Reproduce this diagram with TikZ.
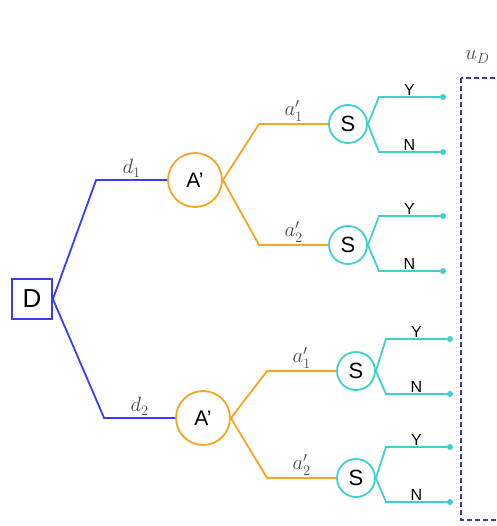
\documentclass[tikz,border=0pt]{standalone}
\usepackage{fontspec}
\setmainfont{Liberation Sans}
\usetikzlibrary{positioning,calc}
\definecolor{decblue}{HTML}{3C3CF5}
\definecolor{advorange}{HTML}{F7A423}
\definecolor{sigcyan}{HTML}{40CFCF}
\definecolor{payblue}{HTML}{3A3AA8}

\begin{document}
\begin{tikzpicture}[x=1pt, y=-1pt,
  decnode/.style={rectangle, draw=decblue, line width=1.8pt, minimum size=40pt, inner sep=0pt, font=\fontsize{26}{26}\selectfont},
  advnode/.style={circle, draw=advorange, line width=1.8pt, minimum size=54pt, inner sep=0pt, font=\fontsize{21}{21}\selectfont},
  signode/.style={circle, draw=sigcyan, line width=1.8pt, minimum size=38pt, inner sep=0pt, font=\fontsize{22}{22}\selectfont},
  leafdot/.style={circle, fill=sigcyan, minimum size=6pt, inner sep=0pt},
  decedge/.style={draw=decblue, line width=1.8pt},
  advedge/.style={draw=advorange, line width=1.8pt},
  sigedge/.style={draw=sigcyan, line width=1.8pt},
  mathlab/.style={font=\fontsize{22}{22}\selectfont, inner sep=2pt, text=black!70},
  leaflab/.style={font=\fontsize{16}{16}\selectfont, inner sep=0.5pt},
]
\useasboundingbox (0,0) rectangle (496,526);
\clip (0,0) rectangle (496,526);

% decision, adversary and signal nodes
\node[decnode] (D) at (32,299) {D};
\node[advnode] (A1) at (195,180) {A'};
\node[advnode] (A2) at (203,418) {A'};
\node[signode] (S11) at (348,124) {S};
\node[signode] (S12) at (348,245) {S};
\node[signode] (S21) at (356,371) {S};
\node[signode] (S22) at (356,478) {S};

% leaves
\node[leafdot] (Y11) at (443,97) {};
\node[leafdot] (N11) at (443,152) {};
\node[leafdot] (Y12) at (443,216) {};
\node[leafdot] (N12) at (443,271) {};
\node[leafdot] (Y21) at (450,339) {};
\node[leafdot] (N21) at (450,394) {};
\node[leafdot] (Y22) at (450,447) {};
\node[leafdot] (N22) at (450,502) {};

% D branches
\draw[decedge] (D.east) -- ($(A1.west)+(-71,0)$) -- node[mathlab, above] {$d_1$} (A1.west);
\draw[decedge] (D.east) -- ($(A2.west)+(-71,0)$) -- node[mathlab, above] {$d_2$} (A2.west);

% A' branches
\foreach \a/\su/\sl in {A1/S11/S12, A2/S21/S22} {
  \draw[advedge] (\a.east) -- ($(\su.west)+(-69,0)$) -- node[mathlab, above] {$a'_1$} (\su.west);
  \draw[advedge] (\a.east) -- ($(\sl.west)+(-69,0)$) -- node[mathlab, above] {$a'_2$} (\sl.west);
}

% S branches
\foreach \s/\y/\n in {S11/Y11/N11, S12/Y12/N12, S21/Y21/N21, S22/Y22/N22} {
  \draw[sigedge] (\s.east) -- ($(\y)+(-64,0)$) -- node[leaflab, above] {Y} (\y);
  \draw[sigedge] (\s.east) -- ($(\n)+(-64,0)$) -- node[leaflab, above] {N} (\n);
}

% payoff box
\node[mathlab, anchor=west] (uD) at (463,57) {$u_D$};
\draw[payblue, line width=1.2pt, dash pattern=on 5pt off 3pt] (461,78) rectangle (540,520);
\end{tikzpicture}
\end{document}
